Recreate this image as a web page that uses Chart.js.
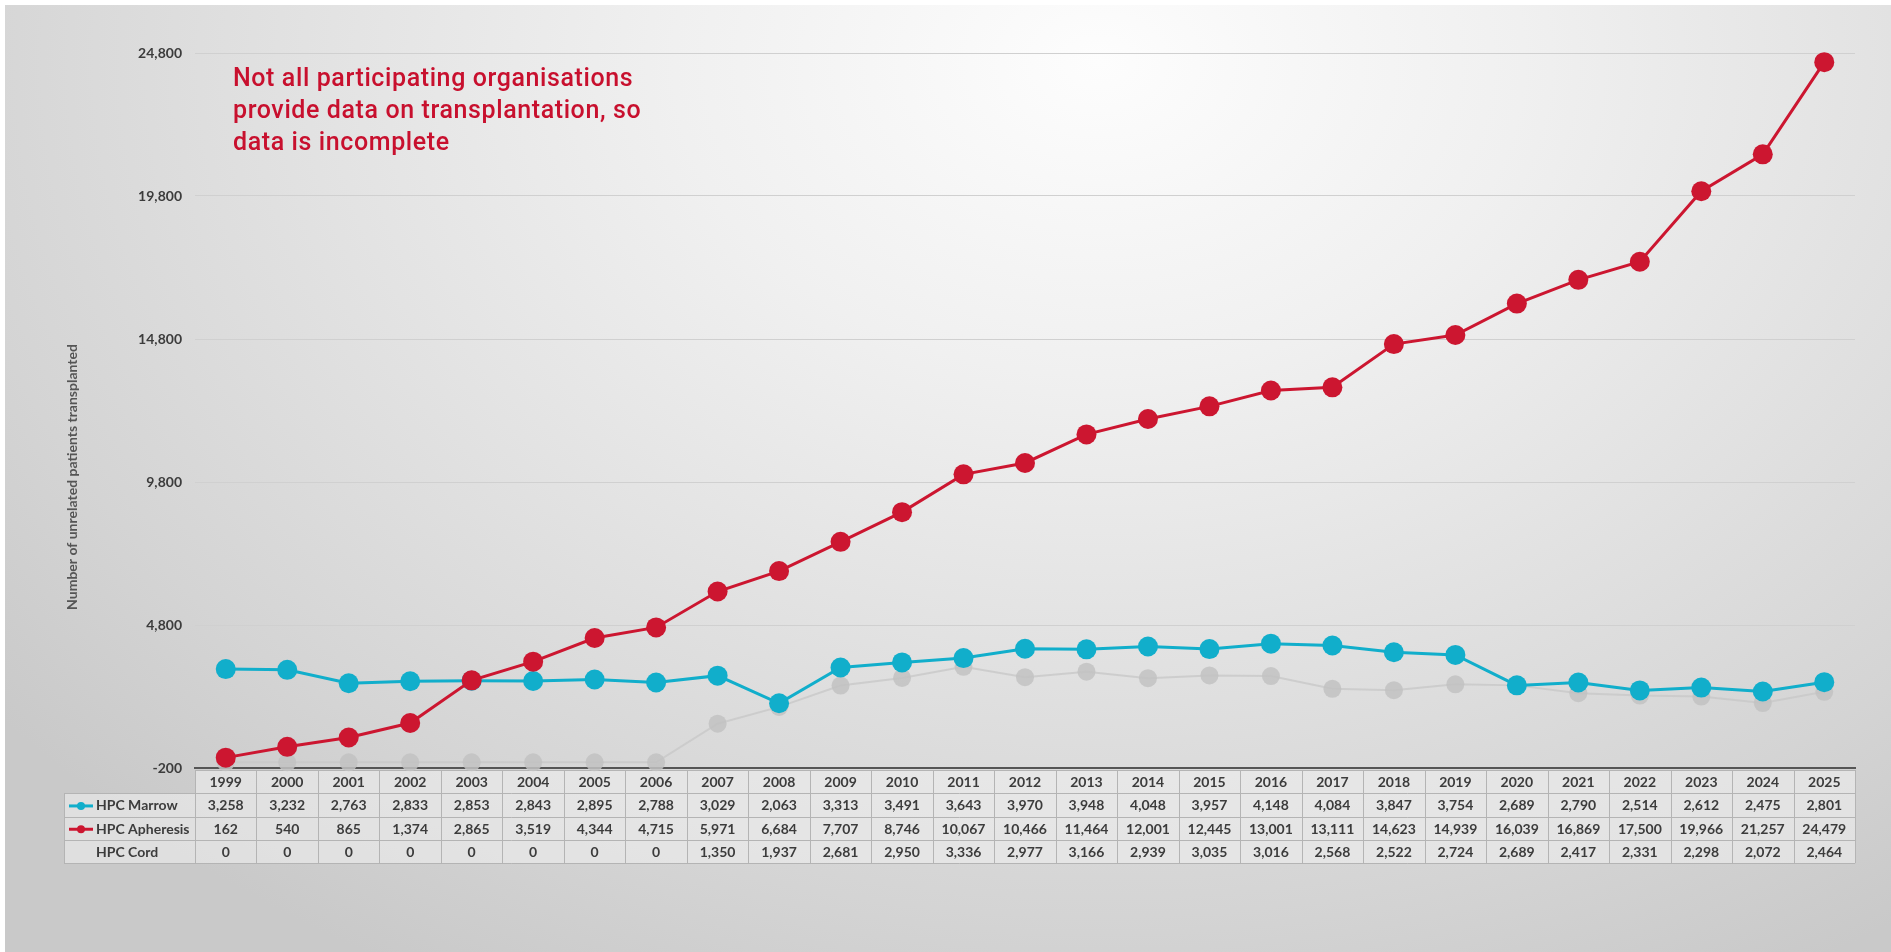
<!DOCTYPE html>
<html>
<head>
<meta charset="utf-8">
<script src="https://cdn.jsdelivr.net/npm/chart.js@4.4.1/dist/chart.umd.min.js"></script>
<style>
html, body { margin: 0; padding: 0; width: 1891px; height: 952px; overflow: hidden; background: #fff; }
#frame {
    position: absolute; left: 5px; top: 5px; width: 1886px; height: 947px;
    background: radial-gradient(ellipse 75% 110% at 58% 6%, #fdfdfd 0%, #f0f0f0 30%, #e1e1e1 58%, #d4d4d4 82%, #c9c9c9 100%);
}
#chart { position: absolute; left: 0; top: 0; }
#note {
    position: absolute; left: 233px; top: 62px;
    font: 500 25px/32px Roboto, sans-serif; letter-spacing: 0.6px; color: #c8102e;
}
</style>
</head>
<body>
<div id="frame"></div>
<canvas id="chart" width="1891" height="952"></canvas>
<div id="note">Not all participating organisations<br>provide data on transplantation, so<br>data is incomplete</div>
<script>
// 데이터
const years = ['1999', '2000', '2001', '2002', '2003', '2004', '2005', '2006', '2007', '2008', '2009', '2010', '2011', '2012',
    '2013', '2014', '2015', '2016', '2017', '2018', '2019', '2020', '2021', '2022', '2023', '2024', '2025'];
const marrow = [3258, 3232, 2763, 2833, 2853, 2843, 2895, 2788, 3029, 2063, 3313, 3491, 3643, 3970,
    3948, 4048, 3957, 4148, 4084, 3847, 3754, 2689, 2790, 2514, 2612, 2475, 2801];
const apheresis = [162, 540, 865, 1374, 2865, 3519, 4344, 4715, 5971, 6684, 7707, 8746, 10067, 10466,
    11464, 12001, 12445, 13001, 13111, 14623, 14939, 16039, 16869, 17500, 19966, 21257, 24479];
const cord = [0, 0, 0, 0, 0, 0, 0, 0, 1350, 1937, 2681, 2950, 3336, 2977,
    3166, 2939, 3035, 3016, 2568, 2522, 2724, 2689, 2417, 2331, 2298, 2072, 2464];
const yTicks = [-200, 4800, 9800, 14800, 19800, 24800];
const yTitle = 'Number of unrelated patients transplanted';

const rows = [
    { label: 'HPC Marrow', values: marrow, color: '#11aecb' },
    { label: 'HPC Apheresis', values: apheresis, color: '#cc1630' },
    { label: 'HPC Cord', values: cord, color: null }
];

const fmt = v => v.toLocaleString('en-US');

// 아래 데이터 테이블
const tablePlugin = {
    id: 'dataTable',
    beforeDatasetsDraw(chart) {
        const { ctx, scales: { x } } = chart;
        const colW = x.getPixelForValue(1) - x.getPixelForValue(0);
        const top = chart.chartArea.bottom + 2;
        const rowH = 23.3;
        const labelLeft = 64;
        const left = x.left, right = x.right;

        ctx.save();
        // 셀 배경
        ctx.fillStyle = 'rgba(238,238,238,0.6)';
        ctx.fillRect(left, top, right - left, rowH);
        ctx.fillRect(labelLeft, top + rowH, right - labelLeft, rowH * 3);

        // 선
        ctx.strokeStyle = '#b4b4b4';
        ctx.lineWidth = 1;
        ctx.beginPath();
        ctx.moveTo(left, top + 0.5); ctx.lineTo(right, top + 0.5);
        for (let r = 1; r <= 4; r++) {
            const y = Math.round(top + r * rowH) + 0.5;
            ctx.moveTo(labelLeft, y); ctx.lineTo(right, y);
        }
        ctx.moveTo(labelLeft + 0.5, top + rowH); ctx.lineTo(labelLeft + 0.5, top + rowH * 4);
        for (let i = 0; i <= years.length; i++) {
            const xx = Math.round(left + i * colW) + 0.5;
            ctx.moveTo(xx, top); ctx.lineTo(xx, top + rowH * 4);
        }
        ctx.stroke();

        // 글자
        ctx.font = 'bold 14px Lato, sans-serif';
        ctx.fillStyle = '#3c3c3c';
        ctx.textAlign = 'center';
        ctx.textBaseline = 'middle';
        years.forEach((yr, i) => {
            ctx.fillText(yr, x.getPixelForValue(i), top + rowH / 2 + 1);
        });
        rows.forEach((row, r) => {
            const cy = top + rowH * (r + 1) + rowH / 2 + 1;
            row.values.forEach((v, i) => {
                ctx.fillText(fmt(v), x.getPixelForValue(i), cy);
            });
        });

        ctx.textAlign = 'left';
        rows.forEach((row, r) => {
            const cy = top + rowH * (r + 1) + rowH / 2 + 1;
            if (row.color) {
                ctx.strokeStyle = row.color;
                ctx.lineWidth = 3;
                ctx.beginPath();
                ctx.moveTo(69, cy); ctx.lineTo(93, cy);
                ctx.stroke();
                ctx.fillStyle = row.color;
                ctx.beginPath();
                ctx.arc(81, cy, 4, 0, Math.PI * 2);
                ctx.fill();
            }
            ctx.fillStyle = '#3c3c3c';
            ctx.fillText(row.label, 96, cy);
        });
        ctx.restore();
    },
    afterDraw(chart) {
        const { ctx } = chart;
        ctx.save();
        ctx.translate(72, 477);
        ctx.rotate(-Math.PI / 2);
        ctx.font = 'bold 14px Lato, sans-serif';
        ctx.fillStyle = '#555';
        ctx.textAlign = 'center';
        ctx.textBaseline = 'middle';
        ctx.fillText(yTitle, 0, 0);
        ctx.restore();
    }
};

new Chart(document.getElementById('chart').getContext('2d'), {
    type: 'line',
    data: {
        labels: years,
        datasets: [
            {
                label: 'HPC Marrow',
                data: marrow,
                borderColor: '#11aecb',
                backgroundColor: '#11aecb',
                borderWidth: 3,
                pointRadius: 10,
                pointBorderWidth: 0,
                order: 2,
                clip: false
            },
            {
                label: 'HPC Apheresis',
                data: apheresis,
                borderColor: '#cc1630',
                backgroundColor: '#cc1630',
                borderWidth: 3,
                pointRadius: 10,
                pointBorderWidth: 0,
                order: 1,
                clip: false
            },
            {
                label: 'HPC Cord',
                data: cord,
                borderColor: 'rgba(200,200,200,0.8)',
                backgroundColor: 'rgba(194,194,194,0.85)',
                borderWidth: 2,
                pointRadius: 9,
                pointBorderWidth: 0,
                order: 3,
                clip: false
            }
        ]
    },
    options: {
        responsive: false,
        animation: false,
        layout: { padding: { top: 53, right: 36, bottom: 184, left: 0 } },
        plugins: { legend: { display: false }, tooltip: { enabled: false } },
        elements: { line: { tension: 0 } },
        scales: {
            x: {
                type: 'category',
                offset: true,
                ticks: { display: false },
                grid: { display: false },
                border: { display: true, color: '#555', width: 2 },
                afterFit: s => { s.height = 0; }
            },
            y: {
                min: -200,
                max: 24800,
                afterBuildTicks: s => { s.ticks = yTicks.map(v => ({ value: v })); },
                afterFit: s => { s.width = 195; },
                ticks: {
                    padding: 13,
                    color: '#3c3c3c',
                    font: { family: 'Lato', size: 14, weight: 'bold' },
                    callback: v => fmt(v)
                },
                grid: {
                    drawTicks: false,
                    lineWidth: 1,
                    color: c => c.tick && c.tick.value === -200 ? 'transparent' : '#d0d0d0'
                },
                border: { display: false }
            }
        }
    },
    plugins: [tablePlugin]
});
</script>
</body>
</html>
